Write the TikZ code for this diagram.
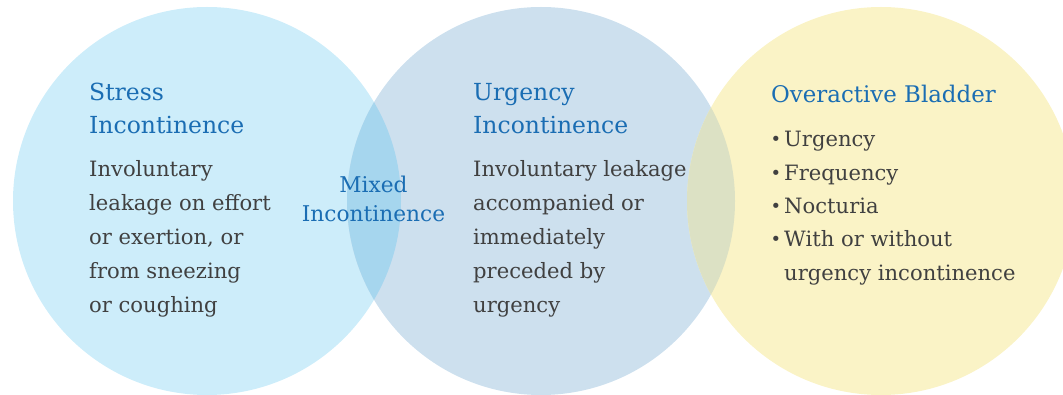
\documentclass[tikz,border=0pt]{standalone}
\usepackage{fontspec}
\setmainfont{DejaVu Serif}
\newcommand{\oabbullet}{\llap{\raisebox{1.2pt}{\scalebox{0.85}{\textbullet}}\hspace{3pt}}}
\begin{document}
\definecolor{stresscol}{HTML}{CDEDFA}
\definecolor{urgcol}{HTML}{CDE0EE}
\definecolor{mixcol}{HTML}{A6D6EE}
\definecolor{oabcol}{HTML}{FAF3C6}
\definecolor{urgoabcol}{HTML}{DCE1C4}
\definecolor{headblue}{HTML}{1A6DB3}
\definecolor{bodygray}{HTML}{404040}
\begin{tikzpicture}[x=1pt,y=-1pt,
  head/.style={anchor=base west,inner sep=0pt,text=headblue,font=\fontsize{23.5}{33}\selectfont},
  body/.style={anchor=base west,inner sep=0pt,text=bodygray,font=\fontsize{21.1}{33}\selectfont},
  mixed/.style={anchor=base,inner sep=0pt,text=headblue,font=\fontsize{21.7}{29}\selectfont}]
\useasboundingbox (0,0) rectangle (1063,395);
% circle centres
\coordinate (cS) at (207,201);
\coordinate (cU) at (541,201);
\coordinate (cO) at (881,201);
\def\rad{194}
% the three sets
\fill[stresscol] (cS) circle (\rad);
\fill[urgcol] (cU) circle (\rad);
\fill[oabcol] (cO) circle (\rad);
% overlaps
\begin{scope}
  \clip (cS) circle (\rad);
  \fill[mixcol] (cU) circle (\rad);
\end{scope}
\begin{scope}
  \clip (cU) circle (\rad);
  \fill[urgoabcol] (cO) circle (\rad);
\end{scope}
% stress incontinence
\node[head] (sh1) at (89,101) {Stress};
\node[head] (sh2) at (89,134) {Incontinence};
\node[body] (sb1) at (89,177) {Involuntary};
\node[body] (sb2) at (89,211) {leakage on effort};
\node[body] (sb3) at (89,245) {or exertion, or};
\node[body] (sb4) at (89,279) {from sneezing};
\node[body] (sb5) at (89,313) {or coughing};
% mixed incontinence
\node[mixed] (mh1) at (373.5,193) {Mixed};
\node[mixed] (mh2) at (373.5,222) {Incontinence};
% urgency incontinence
\node[head] (uh1) at (473,101) {Urgency};
\node[head] (uh2) at (473,134) {Incontinence};
\node[body] (ub1) at (473,177) {Involuntary leakage};
\node[body] (ub2) at (473,211) {accompanied or};
\node[body] (ub3) at (473,245) {immediately};
\node[body] (ub4) at (473,279) {preceded by};
\node[body] (ub5) at (473,313) {urgency};
% overactive bladder
\node[head,font=\fontsize{22.9}{33}\selectfont] (oh1) at (771,103) {Overactive Bladder};
\node[body] (ob1) at (784,147) {\oabbullet Urgency};
\node[body] (ob2) at (784,181) {\oabbullet Frequency};
\node[body] (ob3) at (784,214) {\oabbullet Nocturia};
\node[body] (ob4) at (784,247) {\oabbullet With or without};
\node[body] (ob5) at (784,281) {urgency incontinence};
\end{tikzpicture}
\end{document}
